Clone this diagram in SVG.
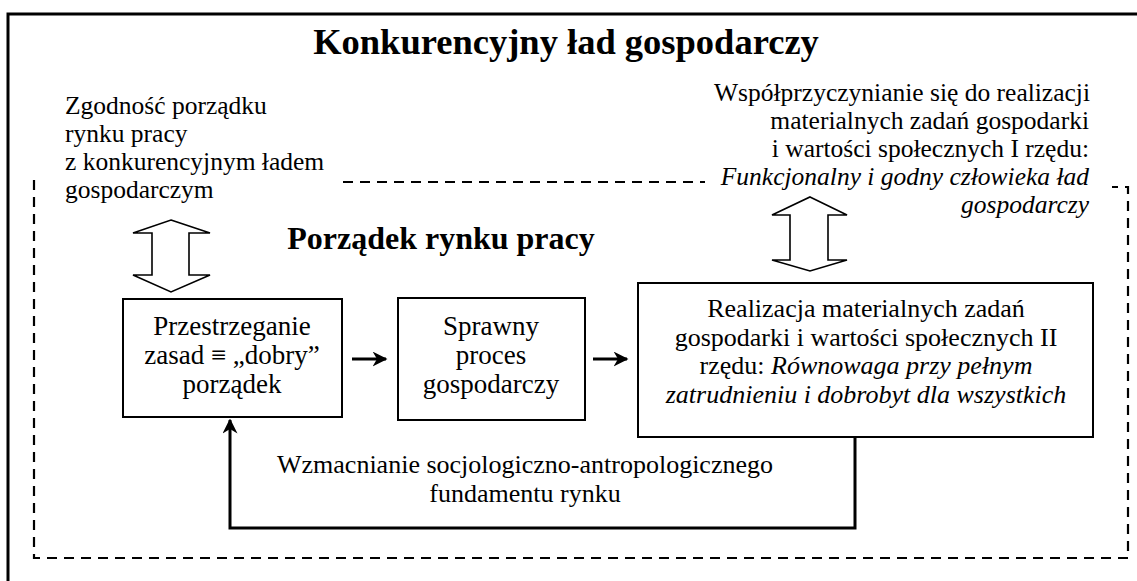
<svg xmlns="http://www.w3.org/2000/svg" width="1137" height="581" viewBox="0 0 1137 581" font-family="'Liberation Serif','DejaVu Serif',serif">
<style>
text{font-family:"Liberation Serif","DejaVu Serif",serif;fill:#000;font-size:26px}
.n{font-size:25.5px}
.bx{font-size:27px}
.b{font-weight:bold}
.t{font-size:36.5px}
.s{font-size:32px}
.c{text-anchor:middle}
.e{text-anchor:end}
.i{font-style:italic}
.box{fill:#fff;stroke:#000;stroke-width:2}
.dash{fill:none;stroke:#000;stroke-width:2.2;stroke-dasharray:10 7}
.dbl{fill:#fff;stroke:#000;stroke-width:1.6;stroke-linejoin:miter}
.conn{fill:none;stroke:#000;stroke-width:3}
</style>
<defs>
<marker id="ah" viewBox="0 0 10 10" refX="9" refY="5" markerWidth="5" markerHeight="5" orient="auto">
<path d="M0,0 L10,5 L0,10 L3,5 Z" fill="#000"/>
</marker>
</defs>
<rect width="1137" height="581" fill="#fff"/>
<g id="frame">
<path d="M8,581 V14 H1137" fill="none" stroke="#000" stroke-width="3"/>
<path class="dash" d="M343,182 H705"/>
<path class="dash" d="M34,180 V558 H1128 V187 H1112"/>
</g>
<g id="title"><text class="b t c" x="566" y="54">Konkurencyjny ład gospodarczy</text></g>
<g id="left-note">
<text class="n" x="65" y="114">Zgodność porządku</text>
<text class="n" x="65" y="142">rynku pracy</text>
<text class="n" x="65" y="170">z konkurencyjnym ładem</text>
<text class="n" x="65" y="198">gospodarczym</text>
</g>
<g id="right-note">
<text class="n e" x="1090" y="101">Współprzyczynianie się do realizacji</text>
<text class="n e" x="1089" y="129">materialnych zadań gospodarki</text>
<text class="n e" x="1089" y="157">i wartości społecznych I rzędu:</text>
<text class="n e i" x="1089" y="185">Funkcjonalny i godny człowieka ład</text>
<text class="n e i" x="1089" y="213">gospodarczy</text>
</g>
<g id="subtitle"><text class="b s c" x="441" y="249">Porządek rynku pracy</text></g>
<g id="dbl-left"><path class="dbl" d="M171,220 L210,233 H189 V275 H210 L171,292 L133,275 H152 V233 H133 Z"/></g>
<g id="dbl-right"><path class="dbl" d="M810,197 L847,215 H828 V260 H847 L810,271 L772,260 H790 V215 H772 Z"/></g>
<g id="box1">
<rect class="box" x="123" y="299" width="219" height="118"/>
<text class="bx c" x="232" y="335">Przestrzeganie</text>
<text class="bx c" x="232" y="364">zasad ≡ „dobry”</text>
<text class="bx c" x="232" y="393">porządek</text>
</g>
<g id="box2">
<rect class="box" x="398" y="298" width="187" height="122"/>
<text class="bx c" x="491" y="335">Sprawny</text>
<text class="bx c" x="491" y="364">proces</text>
<text class="bx c" x="491" y="393">gospodarczy</text>
</g>
<g id="box3">
<rect class="box" x="638" y="283" width="455" height="154"/>
<text class="c" x="866" y="317">Realizacja materialnych zadań</text>
<text class="c" x="866" y="346">gospodarki i wartości społecznych II</text>
<text class="c" x="866" y="374">rzędu: <tspan class="i">Równowaga przy pełnym</tspan></text>
<text class="c i" x="866" y="403">zatrudnieniu i dobrobyt dla wszystkich</text>
</g>
<g id="connectors">
<path class="conn" d="M352,359 H386" marker-end="url(#ah)"/>
<path class="conn" d="M593,359 H627" marker-end="url(#ah)"/>
<path class="conn" d="M855,437 V528 H230 V420" marker-end="url(#ah)"/>
</g>
<g id="loop-label">
<text class="c" x="525" y="473">Wzmacnianie socjologiczno-antropologicznego</text>
<text class="c" x="525" y="502">fundamentu rynku</text>
</g>
</svg>
